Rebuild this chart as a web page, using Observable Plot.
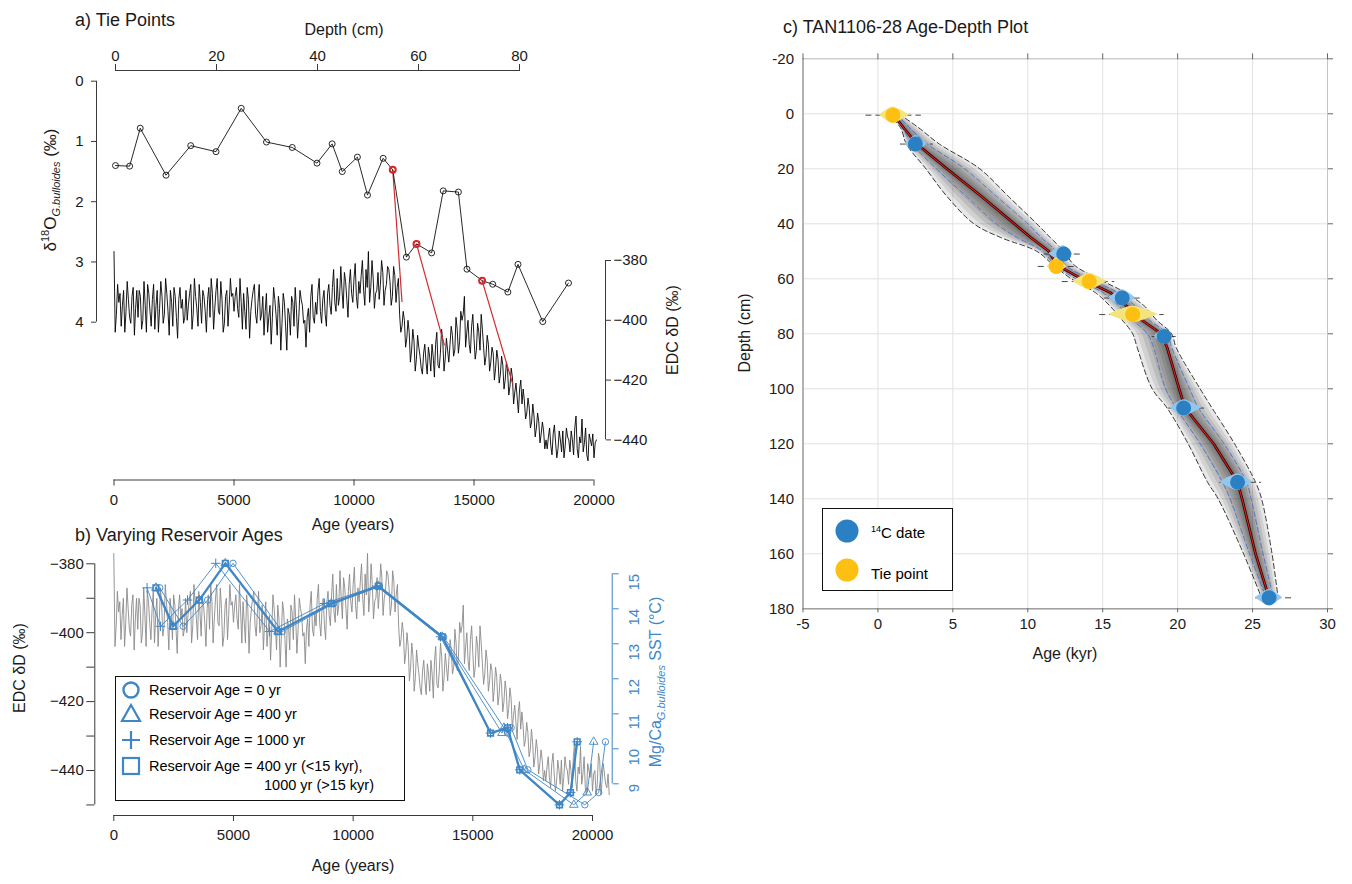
<!DOCTYPE html>
<html><head><meta charset="utf-8">
<script src="https://cdn.jsdelivr.net/npm/d3@7"></script>
<script src="https://cdn.jsdelivr.net/npm/@observablehq/plot@0.6"></script>
<style>
body{margin:0;background:#fff;font-family:"Liberation Sans",Arial,sans-serif;}
#wrap{position:relative;width:1352px;height:884px;overflow:hidden;background:#fff;}
#wrap > svg{position:absolute;left:0;top:0;}
.lbl{position:absolute;white-space:nowrap;color:#1a1a1a;line-height:1;}
.c{transform:translate(-50%,-50%);}
.l{transform:translate(0,-50%);}
.rot{transform:translate(-50%,-50%) rotate(-90deg);}
.box{position:absolute;border:1.3px solid #111;box-sizing:border-box;background:#fff;}
.box .t{position:absolute;white-space:nowrap;transform:translate(0,-50%);line-height:1;}
.box svg{position:absolute;overflow:visible;}
sub,sup{line-height:0;}
</style>
</head><body>
<div id="wrap"></div>
<script>
// ---------------- DATA ----------------
// Panel a: delta18O G.bulloides vs depth
const d18Depth = [0, 2.8, 4.9, 10, 14.9, 19.9, 24.9, 29.9, 35, 39.9, 42.9, 44.9, 47.9, 49.9, 53, 54.9, 57.6, 59.6, 62.6, 64.9, 67.9, 69.6, 72.6, 74.7, 77.7, 79.7, 84.6, 89.7];
const d18Value = [1.40, 1.41, 0.78, 1.56, 1.07, 1.17, 0.45, 1.01, 1.10, 1.36, 1.04, 1.50, 1.26, 1.89, 1.28, 1.47, 2.92, 2.70, 2.85, 1.82, 1.84, 3.12, 3.31, 3.37, 3.50, 3.04, 3.99, 3.35];
// tie points: depth/d18O -> EDC age/dD
const tieDepth = [54.9, 59.6, 72.6];
const tieD18 = [1.47, 2.70, 3.31];
const tieAge = [12000, 13770, 16620];
const tieDD = [-393.9, -408.4, -421.5];
// EDC deltaD: values at 0,100,200,... yr
const edcStep = 100;
const edcDD = [
-377,-398,-394,-402,-390,-397,-393,-401,-389,-396,-399,
-392,-400,-395,-388,-397,-393,-403,-390,-396,-392,
-398,-391,-405,-394,-389,-399,-393,-396,-401,-390,
-395,-388,-398,-392,-402,-394,-390,-397,-393,-399,
-391,-396,-386,-398,-393,-401,-390,-395,-392,-397,
-389,-399,-394,-391,-403,-393,-397,-390,-398,-394,
-400,-392,-397,-404,-395,-399,-393,-405,-396,-401,
-394,-410,-398,-392,-402,-396,-399,-393,-401,-409,
-396,-392,-399,-394,-390,-397,-393,-398,-391,-395,
-389,-394,-386,-392,-390,-384,-393,-388,-391,-386,
-392,-387,-385,-390,-383,-377,-389,-386,-391,-384,
-388,-384,-390,-382,-387,-392,-385,-389,
-398,-402,
-400,-406,-404,-410,-407,-413,-409,-416,-411,-414,
-409,-417,-412,-408,-415,-411,-407,-413,-410,-408,
-405,-410,-403,-407,-400,-392,-404,-408,-402,-406,
-410,-404,-398,-409,-412,-408,-414,-411,-416,-413,
-418,-415,-420,-417,-422,-419,-424,-426,-423,-428,
-427,-431,-429,-434,-432,-436,-434,-438,-437,-440,
-439,-442,-438,-441,-443,-440,-437,-442,-439,-444,
-440,-436,-443,-439,-433,-441,-445,-438,-442,-446,
-440,-444,-437,-443,-441,-445,-447];
// EDC deltaD: values at 50,150,250,... yr
const edcDDMid = [
-404,-388,-391,-395,-404,-387,-399,-392,-405,-390,
-390,-403,-387,-404,-391,-402,-388,-395,-404,-387,
-401,-386,-397,-390,-402,-392,-406,-389,-393,-399,
-400,-391,-403,-386,-396,-388,-401,-392,-404,-389,
-386,-403,-390,-397,-387,-404,-392,-402,-386,-391,
-392,-396,-386,-403,-397,-389,-406,-393,-388,-401,
-388,-398,-405,-391,-399,-408,-389,-398,-392,-410,
-391,-402,-396,-405,-394,-389,-406,-390,-395,-400,
-399,-404,-388,-401,-398,-386,-401,-390,-402,-388,
-398,-383,-397,-395,-382,-396,-387,-399,-383,-394,
-381,-396,-391,-380,-395,-389,-394,-380,-396,-390,
-393,-380,-395,-388,-383,-395,-382,-394,
-386,-404,
-397,-409,-400,-414,-403,-417,-405,-412,-418,-408,
-418,-412,-408,-419,-404,-416,-403,-417,-406,-414,
-402,-412,-399,-411,-397,-398,-409,-400,-411,-398,
-413,-401,-410,-403,-415,-405,-417,-409,-420,-410,
-421,-412,-423,-414,-425,-416,-428,-421,-431,-420,
-423,-433,-426,-436,-428,-439,-431,-441,-434,-443,
-443,-436,-445,-435,-446,-437,-444,-446,-436,-440,
-437,-445,-432,-446,-441,-444,-436,-447,-440,-438,
-441,-447,-435,-447,-438,-444,-441];

// Panel b: Mg/Ca SST and ages under four reservoir-age scenarios
const sstValue = [14.6, 13.5, 14.25, 15.3, 13.35, 14.15, 14.65, 13.2, 10.45, 10.6, 9.4, 8.4, 8.75, 10.2];
const ageRes0    = [1920, 2900, 3920, 4980, 7040, 9180, 11100, 13780, 16450, 16600, 17300, 19680, 20260, 20540];
const ageRes400  = [1760, 2480, 3570, 4660, 6860, 9090, 11050, 13720, 16220, 16300, 17150, 19220, 19780, 20050];
const ageRes1000 = [1390, 1950, 3080, 4260, 6510, 8800, 10980, 13650, 15740, 16450, 16960, 18620, 19080, 19360];
const ageResMix  = [1760, 2480, 3570, 4660, 6860, 9090, 11050, 13720, 15740, 16450, 16960, 18620, 19080, 19360];

// Panel c: age-depth model
const c14Age   = [2.5, 12.4, 16.3, 19.1, 20.4, 24.0, 26.1];
const c14Depth = [11, 51, 67, 81, 107, 134, 176];
const c14LensLo = [1.8, 11.4, 15.4, 18.45, 19.5, 22.8, 25.2];
const c14LensHi = [3.3, 13.0, 17.2, 19.65, 21.6, 25.0, 27.0];
const c14ErrLo = [1.5, 11.1, 15.1, 18.3, 19.4, 22.8, 25.2];
const c14ErrHi = [3.7, 13.5, 17.5, 19.9, 21.8, 25.6, 27.6];
const tpAge   = [1.0, 11.9, 14.1, 17.0];
const tpDepth = [0.5, 55.5, 61, 73];
const tpLensLo = [0.1, 11.3, 13.0, 15.4];
const tpLensHi = [2.1, 12.6, 15.3, 18.7];
const tpErrLo = [-0.8, 10.7, 12.3, 14.8];
const tpErrHi = [2.9, 13.2, 15.8, 19.1];
const envDepth = [0, 5, 11, 20, 30, 40, 45, 50, 55, 60, 65, 70, 75, 80, 85, 100, 107, 120, 134, 140, 160, 176];
const envMedian = [1.0, 1.7, 2.6, 4.6, 6.9, 9.1, 10.2, 11.4, 11.95, 13.6, 15.5, 16.6, 17.6, 18.9, 19.3, 20.1, 20.5, 22.4, 24.0, 24.3, 25.2, 26.1];
const envOuterLo = [0.6, 1.5, 1.9, 3.2, 4.6, 6.4, 8.2, 10.6, 11.7, 12.9, 14.5, 15.5, 16.3, 17.0, 17.3, 18.3, 19.3, 20.7, 22.0, 22.7, 24.4, 25.6];
const envOuterHi = [1.4, 2.7, 4.1, 6.8, 8.7, 10.6, 11.5, 12.4, 13.1, 14.7, 16.5, 17.8, 18.6, 19.6, 19.9, 21.5, 22.3, 23.8, 25.2, 25.6, 26.3, 26.7];
const envInnerLo = [0.8, 1.6, 2.3, 3.9, 5.9, 7.9, 9.3, 11.0, 11.8, 13.2, 15.0, 16.1, 17.0, 18.0, 18.4, 19.2, 19.9, 21.5, 23.0, 23.5, 24.8, 25.9];
const envInnerHi = [1.2, 2.1, 3.3, 5.8, 7.9, 10.0, 10.9, 11.9, 12.5, 14.1, 16.0, 17.2, 18.1, 19.3, 19.6, 20.8, 21.4, 23.1, 24.6, 24.9, 25.7, 26.4];

// tick labels
const depthTicks = [0, 20, 40, 60, 80];
const d18Ticks = [0, 1, 2, 3, 4];
const ageTicks = [0, 5000, 10000, 15000, 20000];
const ddTicksA = [-380, -400, -420, -440];
const ddTicksB = [-380, -390, -400, -410, -420, -430, -440, -450];
const sstTicks = [9, 10, 11, 12, 13, 14, 15];
const kyrTicks = [-5, 0, 5, 10, 15, 20, 25, 30];
const cmTicks = [-20, 0, 20, 40, 60, 80, 100, 120, 140, 160, 180];

// ---------------- STYLE ----------------
const font = '"Liberation Sans", Arial, sans-serif';
const axisCol = "#3a3a3a";
const blue = "#3f86c6";
const red = "#d42a2f";
const wrap = document.getElementById("wrap");
const minus = d => (d < 0 ? "\u2212" + Math.abs(d) : String(d));
const rnd = v => String(Math.round(v) || 0);

// ---------------- PANEL A ----------------
const aAgeRange = [113.5, 593.5];
const aDDRange = [260, 439.4];
const depthPx = d3.scaleLinear([0, 80], [115, 519]);
const aPxToAge = d3.scaleLinear(aAgeRange, [0, 20000]);
const d18Px = d3.scaleLinear([0, 4], [80.7, 321.7]);
const aPxToDD = d3.scaleLinear(aDDRange, [-380, -440]);
const depthToAge = d => aPxToAge(depthPx(d));
const ageToDepth = a => depthPx.invert(aPxToAge.invert(a));
const d18ToDD = v => aPxToDD(d18Px(v));
const ddToD18 = v => d18Px.invert(aPxToDD.invert(v));

const edc = edcDD.flatMap((v, i) => {
  const rows = [{age: i * edcStep, dd: v}];
  if (i < edcDDMid.length) rows.push({age: i * edcStep + edcStep / 2, dd: edcDDMid[i]});
  return rows;
});
const d18 = d18Depth.map((d, i) => ({age: depthToAge(d), dd: d18ToDD(d18Value[i])}));
const ties = tieDepth.map((d, i) => ({x1: depthToAge(d), y1: d18ToDD(tieD18[i]), x2: tieAge[i], y2: tieDD[i]}));

const plotA = Plot.plot({
  width: 700, height: 540, marginLeft: 96, marginRight: 95, marginTop: 70, marginBottom: 60.5,
  style: {background: "transparent", fontFamily: font, fontSize: "15px", color: "#1a1a1a", overflow: "visible"},
  x: {domain: [0, 20000], range: aAgeRange},
  y: {domain: [-380, -440], range: aDDRange},
  marks: [
    Plot.line(edc.filter(r => r.age <= 20100), {x: "age", y: "dd", stroke: "#000", strokeWidth: 0.9}),
    Plot.link(ties, {x1: "x1", y1: "y1", x2: "x2", y2: "y2", stroke: red, strokeWidth: 1.2}),
    Plot.line(d18, {x: "age", y: "dd", stroke: "#111", strokeWidth: 0.9}),
    Plot.dot(d18, {x: "age", y: "dd", r: 3, stroke: "#111", strokeWidth: 0.9, fill: "none"}),
    Plot.dot(ties, {x: "x1", y: "y1", r: 3, stroke: red, strokeWidth: 2, fill: "none"}),
    // axis lines
    Plot.ruleY([aPxToDD(70)], {x1: depthToAge(0), x2: depthToAge(80), stroke: axisCol}),
    Plot.ruleX([aPxToAge(96)], {y1: d18ToDD(0), y2: d18ToDD(4), stroke: axisCol}),
    Plot.ruleX([aPxToAge(605)], {y1: -380, y2: -440, stroke: axisCol}),
    Plot.ruleY([aPxToDD(479.5)], {x1: 0, x2: 20000, stroke: axisCol}),
    Plot.axisX({anchor: "top", ticks: depthTicks.map(depthToAge), tickFormat: a => rnd(ageToDepth(a)), tickSize: 7, tickPadding: 3, label: null, stroke: axisCol}),
    Plot.axisX({anchor: "bottom", ticks: ageTicks, tickFormat: d => String(d), tickSize: 6, tickPadding: 8, label: null, stroke: axisCol}),
    Plot.axisY({anchor: "left", ticks: d18Ticks.map(d18ToDD), tickFormat: v => rnd(ddToD18(v)), tickSize: 5, tickPadding: 8, label: null, stroke: axisCol}),
    Plot.axisY({anchor: "right", ticks: ddTicksA, tickFormat: minus, tickSize: 5, tickPadding: 3, label: null, stroke: axisCol})
  ]
});
wrap.appendChild(plotA);

// ---------------- PANEL B ----------------
const bAgeRange = [113.3, 592];
const bDDRange = [563.3, 770];
const bPxToDD = d3.scaleLinear(bDDRange, [-380, -440]);
const bPxToAge = d3.scaleLinear(bAgeRange, [0, 20000]);
const sstPx = d3.scaleLinear([15, 9], [573.3, 783.3]);
const sstToDD = t => bPxToDD(sstPx(t));
const scen = [
  {ages: ageRes0, symbol: "circle", w: 0.9, sw: 0.9},
  {ages: ageRes400, symbol: "triangle", w: 0.9, sw: 0.9},
  {ages: ageRes1000, symbol: "plus", w: 0.9, sw: 1},
  {ages: ageResMix, symbol: "square", w: 2.3, sw: 1.6}
];
const scenMarks = scen.flatMap(s => {
  const rows = sstValue.map((t, i) => ({age: s.ages[i], dd: sstToDD(t)}));
  return [
    Plot.line(rows, {x: "age", y: "dd", stroke: blue, strokeWidth: s.w}),
    Plot.dot(rows, {x: "age", y: "dd", symbol: s.symbol, r: 3.2, stroke: blue, strokeWidth: s.sw, fill: "none"})
  ];
});

const plotB = Plot.plot({
  width: 700, height: 884, marginLeft: 94.3, marginRight: 88.3, marginTop: 550, marginBottom: 69,
  style: {background: "transparent", fontFamily: font, fontSize: "15px", color: "#1a1a1a", overflow: "visible"},
  x: {domain: [0, 20000], range: bAgeRange},
  y: {domain: [-380, -440], range: bDDRange},
  marks: [
    Plot.line(edc, {x: "age", y: "dd", stroke: "#8a8a8a", strokeWidth: 0.9}),
    ...scenMarks,
    Plot.ruleX([bPxToAge(94.3)], {y1: -380, y2: -450, stroke: axisCol}),
    Plot.ruleY([bPxToDD(815)], {x1: 0, x2: 20000, stroke: axisCol}),
    Plot.ruleX([bPxToAge(611.7)], {y1: sstToDD(15), y2: sstToDD(9), stroke: blue}),
    Plot.axisX({anchor: "bottom", ticks: ageTicks, tickFormat: d => String(d), tickSize: 6, tickPadding: 8, label: null, stroke: axisCol}),
    Plot.axisY({anchor: "left", ticks: ddTicksB, tickFormat: d => (d % 20 === 0 && d >= -440 ? minus(d) : ""), tickSize: 8, tickPadding: 3, label: null, stroke: axisCol}),
    Plot.axisY({anchor: "right", ticks: sstTicks.map(sstToDD), tickFormat: () => "", tickSize: 6, label: null, stroke: blue}),
    Plot.text(sstTicks, {y: t => sstToDD(t), text: t => String(t), frameAnchor: "right", dx: 21.5, rotate: -90, fill: blue, fontSize: 15})
  ]
});
wrap.appendChild(plotB);

// ---------------- PANEL C ----------------
const env = envDepth.map((d, i) => ({d, m: envMedian[i], lo: envOuterLo[i], hi: envOuterHi[i], ilo: envInnerLo[i], ihi: envInnerHi[i]}));
const bandKs = [1, 0.84, 0.68, 0.53, 0.4, 0.28, 0.17, 0.08];
const bandMarks = bandKs.map(k => Plot.areaX(env, {y: "d", x1: r => r.m - k * (r.m - r.lo), x2: r => r.m + k * (r.hi - r.m), fill: "#000", fillOpacity: 0.095, curve: "catmull-rom"}));
const c14 = c14Age.map((a, i) => ({age: a, depth: c14Depth[i], lo: c14LensLo[i], hi: c14LensHi[i], elo: c14ErrLo[i], ehi: c14ErrHi[i]}));
const tps = tpAge.map((a, i) => ({age: a, depth: tpDepth[i], lo: tpLensLo[i], hi: tpLensHi[i], elo: tpErrLo[i], ehi: tpErrHi[i]}));
const lensH = 3; // half height of lens in cm units (visual)
const lensRows = pts => pts.flatMap((p, i) => [[p.lo, 0], [(p.lo + p.age) / 2, 0.6], [p.age, 1], [(p.age + p.hi) / 2, 0.6], [p.hi, 0]]
  .map(([x, f]) => ({id: i, x, y1: p.depth - f * lensH, y2: p.depth + f * lensH})));

const plotC = Plot.plot({
  width: 1352, height: 884, marginLeft: 802.5, marginRight: 25, marginTop: 58.3, marginBottom: 275.7,
  style: {background: "transparent", fontFamily: font, fontSize: "15px", color: "#1a1a1a", overflow: "visible"},
  x: {domain: [-5, 30]},
  y: {domain: [180, -20]},
  marks: [
    Plot.gridX({ticks: kyrTicks, stroke: "#e2e2e2", strokeOpacity: 1}),
    Plot.gridY({ticks: cmTicks, stroke: "#e2e2e2", strokeOpacity: 1}),
    Plot.frame({stroke: "#c4c4c4"}),
    ...bandMarks,
    Plot.line(env, {x: "lo", y: "d", stroke: "#222", strokeWidth: 0.9, strokeDasharray: "5,3", curve: "catmull-rom"}),
    Plot.line(env, {x: "hi", y: "d", stroke: "#222", strokeWidth: 0.9, strokeDasharray: "5,3", curve: "catmull-rom"}),
    Plot.line(env, {x: "ilo", y: "d", stroke: "#4b6fcf", strokeWidth: 0.9, strokeDasharray: "5,3", curve: "catmull-rom"}),
    Plot.line(env, {x: "ihi", y: "d", stroke: "#4b6fcf", strokeWidth: 0.9, strokeDasharray: "5,3", curve: "catmull-rom"}),
    Plot.line(env, {x: "m", y: "d", stroke: "#2a0000", strokeWidth: 2.6}),
    Plot.line(env, {x: "m", y: "d", stroke: "#e0201b", strokeWidth: 1.1}),
    Plot.ruleY(c14, {y: "depth", x1: "elo", x2: "ehi", stroke: "#333", strokeWidth: 0.9, strokeDasharray: "6,4"}),
    Plot.ruleY(tps, {y: "depth", x1: "elo", x2: "ehi", stroke: "#333", strokeWidth: 0.9, strokeDasharray: "6,4"}),
    Plot.areaY(lensRows(c14), {x: "x", y1: "y1", y2: "y2", z: "id", fill: "#93c6ec", curve: "catmull-rom"}),
    Plot.areaY(lensRows(tps), {x: "x", y1: "y1", y2: "y2", z: "id", fill: "#f3e47c", curve: "catmull-rom"}),
    Plot.dot(c14, {x: "age", y: "depth", r: 7.5, fill: "#2a80c2"}),
    Plot.dot(tps, {x: "age", y: "depth", r: 7.5, fill: "#fcbf12"}),
    Plot.ruleX([-5], {stroke: "#8a8a8a"}),
    Plot.ruleY([180], {stroke: "#8a8a8a"}),
    Plot.axisX({anchor: "bottom", ticks: kyrTicks, tickFormat: d => String(d), tickSize: 4, tickPadding: 6, label: null, stroke: "#666"}),
    Plot.axisX({anchor: "top", ticks: kyrTicks, tickFormat: () => "", tickSize: 6, label: null, stroke: "#666"}),
    Plot.axisY({anchor: "left", ticks: cmTicks, tickFormat: d => String(d), tickSize: 0, tickPadding: 9, label: null}),
    Plot.axisY({anchor: "right", ticks: cmTicks, tickFormat: () => "", tickSize: 5, label: null, stroke: "#666"})
  ]
});
wrap.appendChild(plotC);

// ---------------- TEXT ----------------
function label(html, x, y, cls, size, extra) {
  const d = document.createElement("div");
  d.className = "lbl " + cls;
  d.style.left = x + "px"; d.style.top = y + "px";
  d.style.fontSize = size + "px";
  if (extra) Object.assign(d.style, extra);
  d.innerHTML = html;
  wrap.appendChild(d);
  return d;
}
label("a) Tie Points", 75, 20, "l", 18);
label("Depth (cm)", 344, 30, "c", 16);
label("\u03b4<sup style='font-size:11px'>18</sup>O<sub style='font-size:11px'><i>G.bulloides</i></sub> (\u2030)", 50, 190, "rot", 17);
label("EDC \u03b4D (\u2030)", 673, 330, "rot", 16);
label("Age (years)", 353, 525, "c", 16);
label("b) Varying Reservoir Ages", 75, 535, "l", 18);
label("EDC \u03b4D (\u2030)", 20, 668, "rot", 16);
label("Mg/Ca<sub style='font-size:11px'><i>G.bulloides</i></sub> SST (\u00b0C)", 656, 682, "rot", 16, {color: blue});
label("Age (years)", 353, 866, "c", 16);
label("c) TAN1106-28 Age-Depth Plot", 783, 27, "l", 18);
label("Age (kyr)", 1065, 654, "c", 16);
label("Depth (cm)", 745, 333, "rot", 16);

// legend b
const legB = document.createElement("div");
legB.className = "box";
Object.assign(legB.style, {left: "115px", top: "676px", width: "290px", height: "125px", fontSize: "14.5px"});
const legBRows = [
  {y: 13, text: "Reservoir Age = 0 yr", icon: "<circle cx='0' cy='0' r='7.5' fill='none' stroke='" + blue + "' stroke-width='2.4'/>"},
  {y: 37, text: "Reservoir Age = 400 yr", icon: "<path d='M0,-9 L9,7 L-9,7 Z' fill='none' stroke='" + blue + "' stroke-width='2.2'/>"},
  {y: 63, text: "Reservoir Age = 1000 yr", icon: "<path d='M-9,0 H9 M0,-9 V9' stroke='" + blue + "' stroke-width='2.2'/>"},
  {y: 89, text: "Reservoir Age = 400 yr (&lt;15 kyr),", icon: "<rect x='-8' y='-8' width='16' height='16' fill='none' stroke='" + blue + "' stroke-width='2.2'/>"}
];
legBRows.forEach(r => {
  legB.insertAdjacentHTML("beforeend", "<svg width='1' height='1' style='left:15px;top:" + r.y + "px'>" + r.icon + "</svg>");
  legB.insertAdjacentHTML("beforeend", "<div class='t' style='left:33px;top:" + r.y + "px'>" + r.text + "</div>");
});
legB.insertAdjacentHTML("beforeend", "<div class='t' style='left:148px;top:108px'>1000 yr (&gt;15 kyr)</div>");
wrap.appendChild(legB);

// legend c
const legC = document.createElement("div");
legC.className = "box";
Object.assign(legC.style, {left: "822px", top: "508px", width: "131px", height: "83px", fontSize: "15px"});
legC.insertAdjacentHTML("beforeend", "<svg width='1' height='1' style='left:24px;top:22px'><ellipse cx='0' cy='0' rx='11.5' ry='11.5' fill='#2a80c2'/></svg>");
legC.insertAdjacentHTML("beforeend", "<div class='t' style='left:48px;top:23px'><sup style='font-size:9px'>14</sup>C date</div>");
legC.insertAdjacentHTML("beforeend", "<svg width='1' height='1' style='left:24px;top:61px'><ellipse cx='0' cy='0' rx='11.5' ry='11.5' fill='#fcbf12'/></svg>");
legC.insertAdjacentHTML("beforeend", "<div class='t' style='left:48px;top:64px'>Tie point</div>");
wrap.appendChild(legC);
</script>
</body></html>
